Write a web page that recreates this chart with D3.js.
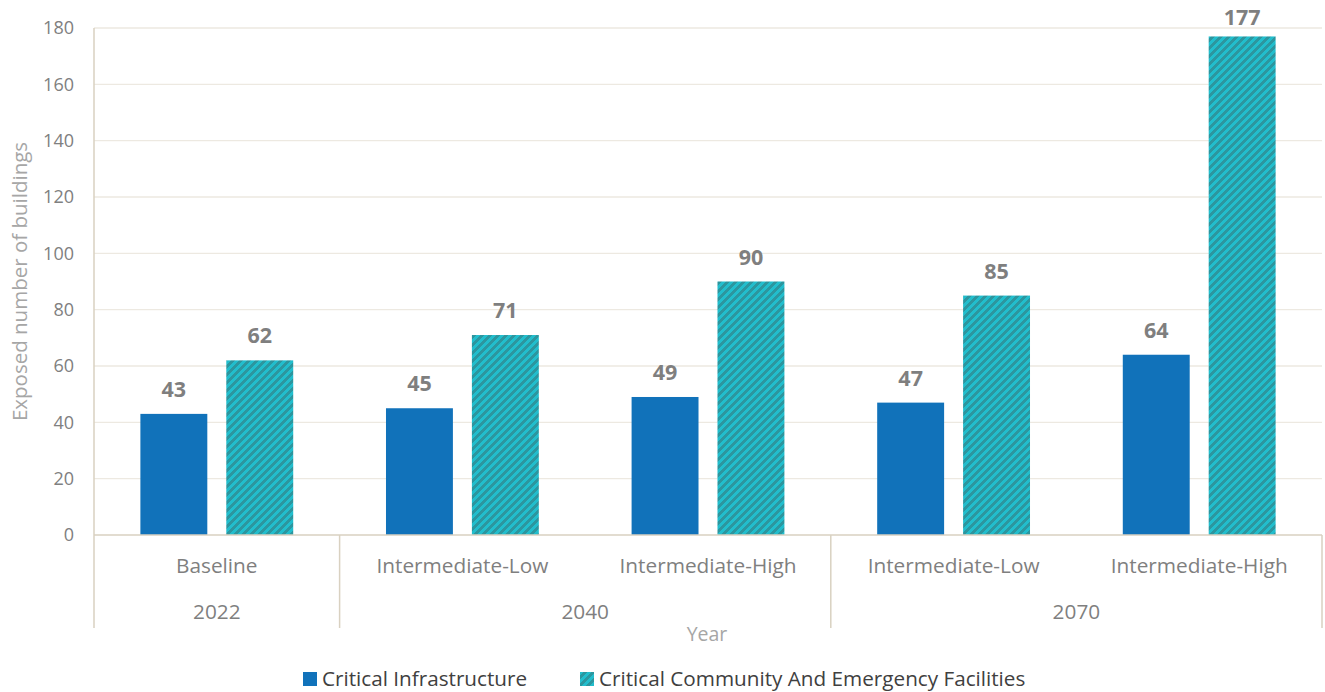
<!DOCTYPE html>
<html>
<head>
<meta charset="utf-8">
<script src="https://cdn.jsdelivr.net/npm/d3@7"></script>
<style>
  html, body { margin: 0; padding: 0; background: #fff; }
  svg { display: block; font-family: "Open Sans", "Noto Sans", sans-serif; }
</style>
</head>
<body>
<svg id="chart" width="1325" height="692"></svg>
<script>
// Scenario categories, grouped by year
const scenarios = ["Baseline", "Intermediate-Low", "Intermediate-High", "Intermediate-Low", "Intermediate-High"];
const years = ["2022", "2040", "2040", "2070", "2070"];
const yearGroups = [
  { year: "2022", start: 0, end: 1 },
  { year: "2040", start: 1, end: 3 },
  { year: "2070", start: 3, end: 5 }
];
const seriesNames = ["Critical Infrastructure", "Critical Community And Emergency Facilities"];
const infrastructure = [43, 45, 49, 47, 64];
const facilities = [62, 71, 90, 85, 177];
const yTicks = [0, 20, 40, 60, 80, 100, 120, 140, 160, 180];

const svg = d3.select("#chart");
const margin = { left: 94, right: 1322, top: 28, bottom: 535 };

// Hatched fill for the second series
const defs = svg.append("defs");
const pat = defs.append("pattern")
  .attr("id", "hatch")
  .attr("patternUnits", "userSpaceOnUse")
  .attr("width", 8).attr("height", 8);
pat.append("rect").attr("width", 8).attr("height", 8).attr("fill", "#22BDCC");
for (let r = 0; r < 8; r++) {
  for (let k = 0; k < 4; k++) {
    const c = (7 - r + k + 8) % 8;
    pat.append("rect").attr("x", c).attr("y", r).attr("width", 1).attr("height", 1)
      .attr("fill", "#2C969F").attr("shape-rendering", "crispEdges");
  }
}

const idx = d3.range(scenarios.length);
const x = d3.scaleBand().domain(idx).range([margin.left, margin.right]).paddingInner(0).paddingOuter(0);
const y = d3.scaleLinear().domain([0, 180]).range([margin.bottom, margin.top]);

// Gridlines
svg.append("g").selectAll("line").data(yTicks.filter(d => d > 0)).join("line")
  .attr("x1", margin.left).attr("x2", margin.right)
  .attr("y1", d => y(d)).attr("y2", d => y(d))
  .attr("stroke", "#EDE9E1").attr("stroke-width", 1.3);

// Y tick labels
svg.append("g").selectAll("text").data(yTicks).join("text")
  .attr("x", 74).attr("y", d => y(d)).attr("dy", "0.35em")
  .attr("text-anchor", "end")
  .attr("font-size", 18).attr("fill", "#808080")
  .text(d => d);

// Bars with value labels (labels kept inside the chart's top edge)
const inner = d3.scaleBand().domain([0, 1]).range([0, x.bandwidth()]).paddingInner(0.221).paddingOuter(0.54);
const seriesData = [infrastructure, facilities];
const fills = ["#1172BA", "url(#hatch)"];
seriesData.forEach((vals, s) => {
  svg.append("g").selectAll("rect").data(vals).join("rect")
    .attr("x", (d, i) => x(i) + inner(s))
    .attr("width", inner.bandwidth())
    .attr("y", d => y(d))
    .attr("height", d => y(0) - y(d))
    .attr("fill", fills[s]);
  svg.append("g").selectAll("text").data(vals).join("text")
    .attr("x", (d, i) => x(i) + inner(s) + inner.bandwidth() / 2)
    .attr("y", d => Math.max(y(d) - 17, 25))
    .attr("text-anchor", "middle")
    .attr("font-size", 21.5).attr("font-weight", "bold").attr("fill", "#7F7F7F")
    .text(d => d);
});

// Axis lines and group separators
const axisColor = "#D9D1C1";
svg.append("line").attr("x1", margin.left).attr("x2", margin.right)
  .attr("y1", y(0)).attr("y2", y(0)).attr("stroke", axisColor).attr("stroke-width", 1.5);
svg.append("line").attr("x1", margin.left).attr("x2", margin.left)
  .attr("y1", margin.top).attr("y2", margin.bottom).attr("stroke", axisColor).attr("stroke-width", 1.5);
const sepX = [margin.left].concat(yearGroups.map(g => g.end === idx.length ? margin.right : x(g.end)));
svg.append("g").selectAll("line").data(sepX).join("line")
  .attr("x1", d => d).attr("x2", d => d)
  .attr("y1", y(0)).attr("y2", 628)
  .attr("stroke", axisColor).attr("stroke-width", 1.5);

// Scenario labels
svg.append("g").selectAll("text").data(scenarios).join("text")
  .attr("x", (d, i) => x(i) + x.bandwidth() / 2)
  .attr("y", 566).attr("dy", "0.35em")
  .attr("text-anchor", "middle").attr("font-size", 20.8).attr("fill", "#7F7F7F")
  .text(d => d);

// Year labels
svg.append("g").selectAll("text").data(yearGroups).join("text")
  .attr("x", g => (x(g.start) + (g.end === idx.length ? margin.right : x(g.end))) / 2)
  .attr("y", 612).attr("dy", "0.35em")
  .attr("text-anchor", "middle").attr("font-size", 20.8).attr("fill", "#7F7F7F")
  .text(g => g.year);

// Axis titles
svg.append("text").attr("x", 707).attr("y", 634).attr("dy", "0.35em")
  .attr("text-anchor", "middle").attr("font-size", 19.5).attr("fill", "#A6A6A6")
  .text("Year");
svg.append("text")
  .attr("transform", `translate(20,${(margin.top + margin.bottom) / 2}) rotate(-90)`)
  .attr("dy", "0.35em")
  .attr("text-anchor", "middle").attr("font-size", 20.5).attr("fill", "#A6A6A6")
  .text("Exposed number of buildings");

// Legend
const legend = svg.append("g");
const legendX = [303, 580];
seriesNames.forEach((name, s) => {
  legend.append("rect").attr("x", legendX[s]).attr("y", 672).attr("width", 14).attr("height", 14)
    .attr("fill", fills[s]);
  legend.append("text").attr("x", legendX[s] + 19).attr("y", 679).attr("dy", "0.35em")
    .attr("font-size", 20.7).attr("fill", "#404040").text(name);
});
</script>
</body>
</html>
